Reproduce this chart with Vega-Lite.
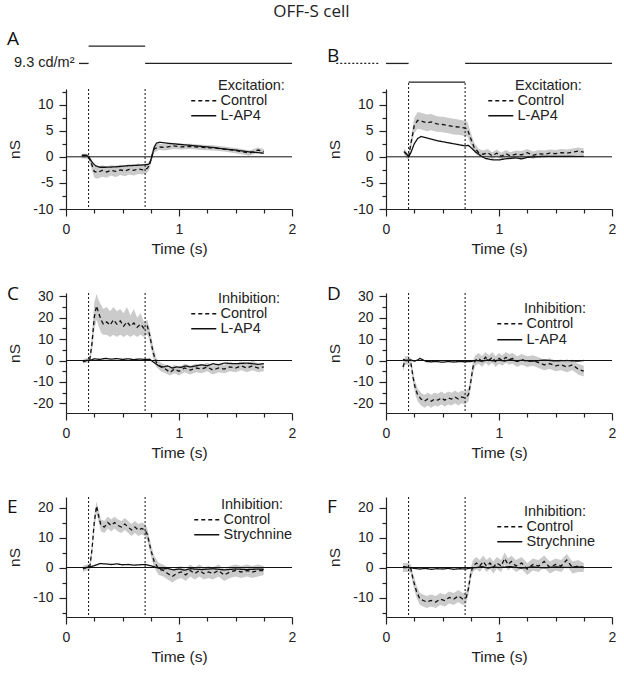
{
"$schema":"https://vega.github.io/schema/vega-lite/v6.json",
"padding":{"left":7,"top":3,"right":5,"bottom":5},
"title":{"text":"OFF-S cell","font":"Open Sans","fontSize":17,"fontWeight":"normal","color":"#222","anchor":"middle","frame":"bounds","dx":0,"dy":0,"offset":8.5},
"columns":2,
"spacing":{"row":84,"column":94},
"bounds":"flush",
"resolve":{"scale":{"x":"independent","y":"independent","strokeDash":"independent"},"legend":{"strokeDash":"independent"},"axis":{"x":"independent","y":"independent"}},
"datasets":{
"one":[{}],
"A":[
{"t":0.14,"s":"Control","v":0.2,"lo":-0.3,"hi":0.6},{"t":0.18,"s":"Control","v":0.2,"lo":-0.3,"hi":0.6},{"t":0.2,"s":"Control","v":0.0,"lo":-0.5,"hi":0.5},{"t":0.22,"s":"Control","v":-1.0,"lo":-1.8,"hi":-0.3},{"t":0.25,"s":"Control","v":-2.8,"lo":-4.0,"hi":-1.8},{"t":0.28,"s":"Control","v":-3.0,"lo":-4.2,"hi":-1.9},{"t":0.32,"s":"Control","v":-2.6,"lo":-3.8,"hi":-1.6},{"t":0.36,"s":"Control","v":-2.9,"lo":-4.0,"hi":-1.8},{"t":0.4,"s":"Control","v":-2.6,"lo":-3.6,"hi":-1.6},{"t":0.44,"s":"Control","v":-2.8,"lo":-3.9,"hi":-1.7},{"t":0.48,"s":"Control","v":-2.5,"lo":-3.5,"hi":-1.5},{"t":0.52,"s":"Control","v":-2.7,"lo":-3.7,"hi":-1.6},{"t":0.56,"s":"Control","v":-2.4,"lo":-3.4,"hi":-1.4},{"t":0.6,"s":"Control","v":-2.6,"lo":-3.6,"hi":-1.5},{"t":0.64,"s":"Control","v":-2.3,"lo":-3.3,"hi":-1.3},{"t":0.68,"s":"Control","v":-2.5,"lo":-3.4,"hi":-1.4},{"t":0.72,"s":"Control","v":-2.2,"lo":-3.0,"hi":-1.2},{"t":0.74,"s":"Control","v":-1.5,"lo":-2.4,"hi":-0.8},{"t":0.76,"s":"Control","v":0.2,"lo":-0.6,"hi":1.0},{"t":0.78,"s":"Control","v":1.5,"lo":0.8,"hi":2.2},{"t":0.82,"s":"Control","v":1.9,"lo":1.3,"hi":2.5},{"t":0.88,"s":"Control","v":1.8,"lo":1.2,"hi":2.4},{"t":0.95,"s":"Control","v":2.1,"lo":1.5,"hi":2.7},{"t":1.02,"s":"Control","v":1.9,"lo":1.4,"hi":2.5},{"t":1.1,"s":"Control","v":2.0,"lo":1.5,"hi":2.5},{"t":1.2,"s":"Control","v":1.8,"lo":1.3,"hi":2.3},{"t":1.3,"s":"Control","v":1.7,"lo":1.2,"hi":2.2},{"t":1.4,"s":"Control","v":1.5,"lo":1.0,"hi":2.0},{"t":1.5,"s":"Control","v":1.2,"lo":0.7,"hi":1.7},{"t":1.58,"s":"Control","v":0.9,"lo":0.4,"hi":1.4},{"t":1.62,"s":"Control","v":0.7,"lo":0.2,"hi":1.2},{"t":1.66,"s":"Control","v":1.0,"lo":0.5,"hi":1.5},{"t":1.7,"s":"Control","v":1.3,"lo":0.8,"hi":1.8},{"t":1.75,"s":"Control","v":1.0,"lo":0.5,"hi":1.5},
{"t":0.14,"s":"L-AP4","v":0.3},{"t":0.18,"s":"L-AP4","v":0.3},{"t":0.2,"s":"L-AP4","v":0.0},{"t":0.23,"s":"L-AP4","v":-1.0},{"t":0.26,"s":"L-AP4","v":-1.7},{"t":0.3,"s":"L-AP4","v":-2.0},{"t":0.35,"s":"L-AP4","v":-2.0},{"t":0.45,"s":"L-AP4","v":-1.9},{"t":0.55,"s":"L-AP4","v":-1.7},{"t":0.65,"s":"L-AP4","v":-1.6},{"t":0.72,"s":"L-AP4","v":-1.5},{"t":0.74,"s":"L-AP4","v":-1.3},{"t":0.76,"s":"L-AP4","v":0.0},{"t":0.78,"s":"L-AP4","v":1.8},{"t":0.8,"s":"L-AP4","v":2.6},{"t":0.83,"s":"L-AP4","v":2.8},{"t":0.9,"s":"L-AP4","v":2.6},{"t":1.0,"s":"L-AP4","v":2.4},{"t":1.1,"s":"L-AP4","v":2.2},{"t":1.2,"s":"L-AP4","v":2.0},{"t":1.3,"s":"L-AP4","v":1.8},{"t":1.4,"s":"L-AP4","v":1.5},{"t":1.5,"s":"L-AP4","v":1.3},{"t":1.6,"s":"L-AP4","v":1.0},{"t":1.7,"s":"L-AP4","v":0.8},{"t":1.75,"s":"L-AP4","v":0.7}
],
"B":[
{"t":0.16,"s":"Control","v":1.0,"lo":0.4,"hi":1.6},{"t":0.19,"s":"Control","v":0.2,"lo":-0.4,"hi":0.8},{"t":0.2,"s":"Control","v":0.0,"lo":-0.6,"hi":0.6},{"t":0.22,"s":"Control","v":2.5,"lo":1.5,"hi":3.5},{"t":0.25,"s":"Control","v":6.0,"lo":4.5,"hi":7.5},{"t":0.28,"s":"Control","v":7.0,"lo":5.4,"hi":8.6},{"t":0.32,"s":"Control","v":6.8,"lo":5.2,"hi":8.4},{"t":0.36,"s":"Control","v":6.5,"lo":4.9,"hi":8.1},{"t":0.4,"s":"Control","v":6.7,"lo":5.1,"hi":8.2},{"t":0.45,"s":"Control","v":6.3,"lo":4.8,"hi":7.8},{"t":0.5,"s":"Control","v":6.2,"lo":4.7,"hi":7.7},{"t":0.55,"s":"Control","v":6.0,"lo":4.5,"hi":7.5},{"t":0.6,"s":"Control","v":5.8,"lo":4.3,"hi":7.3},{"t":0.65,"s":"Control","v":5.7,"lo":4.2,"hi":7.1},{"t":0.7,"s":"Control","v":5.5,"lo":4.0,"hi":6.9},{"t":0.72,"s":"Control","v":5.3,"lo":3.9,"hi":6.7},{"t":0.75,"s":"Control","v":3.5,"lo":2.3,"hi":4.7},{"t":0.78,"s":"Control","v":1.8,"lo":0.9,"hi":2.7},{"t":0.82,"s":"Control","v":0.8,"lo":0.1,"hi":1.5},{"t":0.86,"s":"Control","v":0.5,"lo":-0.2,"hi":1.2},{"t":0.9,"s":"Control","v":0.8,"lo":0.1,"hi":1.5},{"t":0.94,"s":"Control","v":0.2,"lo":-0.5,"hi":0.9},{"t":0.98,"s":"Control","v":0.7,"lo":0.0,"hi":1.4},{"t":1.02,"s":"Control","v":0.1,"lo":-0.6,"hi":0.8},{"t":1.06,"s":"Control","v":0.6,"lo":-0.1,"hi":1.3},{"t":1.1,"s":"Control","v":0.2,"lo":-0.5,"hi":0.9},{"t":1.15,"s":"Control","v":0.5,"lo":-0.2,"hi":1.2},{"t":1.2,"s":"Control","v":0.4,"lo":-0.3,"hi":1.1},{"t":1.25,"s":"Control","v":0.8,"lo":0.1,"hi":1.5},{"t":1.3,"s":"Control","v":0.3,"lo":-0.4,"hi":1.0},{"t":1.35,"s":"Control","v":0.6,"lo":-0.1,"hi":1.3},{"t":1.4,"s":"Control","v":0.5,"lo":-0.2,"hi":1.2},{"t":1.45,"s":"Control","v":0.7,"lo":0.0,"hi":1.4},{"t":1.5,"s":"Control","v":0.6,"lo":-0.1,"hi":1.3},{"t":1.55,"s":"Control","v":0.8,"lo":0.1,"hi":1.5},{"t":1.6,"s":"Control","v":0.7,"lo":0.0,"hi":1.4},{"t":1.65,"s":"Control","v":0.9,"lo":0.2,"hi":1.6},{"t":1.7,"s":"Control","v":1.1,"lo":0.4,"hi":1.8},{"t":1.75,"s":"Control","v":0.9,"lo":0.2,"hi":1.6},
{"t":0.16,"s":"L-AP4","v":1.0},{"t":0.18,"s":"L-AP4","v":0.6},{"t":0.2,"s":"L-AP4","v":0.0},{"t":0.22,"s":"L-AP4","v":0.8},{"t":0.25,"s":"L-AP4","v":2.5},{"t":0.28,"s":"L-AP4","v":3.5},{"t":0.31,"s":"L-AP4","v":3.9},{"t":0.35,"s":"L-AP4","v":3.7},{"t":0.4,"s":"L-AP4","v":3.4},{"t":0.45,"s":"L-AP4","v":3.1},{"t":0.5,"s":"L-AP4","v":2.9},{"t":0.55,"s":"L-AP4","v":2.7},{"t":0.6,"s":"L-AP4","v":2.5},{"t":0.65,"s":"L-AP4","v":2.3},{"t":0.7,"s":"L-AP4","v":2.1},{"t":0.73,"s":"L-AP4","v":2.2},{"t":0.76,"s":"L-AP4","v":1.6},{"t":0.8,"s":"L-AP4","v":0.8},{"t":0.84,"s":"L-AP4","v":0.2},{"t":0.88,"s":"L-AP4","v":-0.3},{"t":0.92,"s":"L-AP4","v":-0.5},{"t":0.96,"s":"L-AP4","v":-0.6},{"t":1.0,"s":"L-AP4","v":-0.6},{"t":1.05,"s":"L-AP4","v":-0.4},{"t":1.1,"s":"L-AP4","v":-0.3},{"t":1.15,"s":"L-AP4","v":-0.2},{"t":1.2,"s":"L-AP4","v":-0.4},{"t":1.25,"s":"L-AP4","v":-0.1},{"t":1.3,"s":"L-AP4","v":0.0},{"t":1.4,"s":"L-AP4","v":0.1},{"t":1.5,"s":"L-AP4","v":0.1},{"t":1.6,"s":"L-AP4","v":0.1},{"t":1.7,"s":"L-AP4","v":0.1},{"t":1.75,"s":"L-AP4","v":0.1}
],
"C":[
{"t":0.15,"s":"Control","v":-0.5,"lo":-1.5,"hi":0.5},{"t":0.18,"s":"Control","v":0.0,"lo":-1,"hi":1},{"t":0.21,"s":"Control","v":0.3,"lo":-1,"hi":1.5},{"t":0.23,"s":"Control","v":8,"lo":4,"hi":12},{"t":0.25,"s":"Control","v":20,"lo":14,"hi":27},{"t":0.27,"s":"Control","v":25.5,"lo":19,"hi":31},{"t":0.29,"s":"Control","v":22,"lo":16,"hi":28},{"t":0.31,"s":"Control","v":19,"lo":13,"hi":26},{"t":0.33,"s":"Control","v":17,"lo":12,"hi":24},{"t":0.36,"s":"Control","v":18,"lo":12,"hi":25},{"t":0.39,"s":"Control","v":16.5,"lo":11,"hi":23},{"t":0.42,"s":"Control","v":19,"lo":12,"hi":25},{"t":0.45,"s":"Control","v":17,"lo":11,"hi":23},{"t":0.48,"s":"Control","v":18.5,"lo":12,"hi":24},{"t":0.51,"s":"Control","v":16,"lo":11,"hi":22},{"t":0.54,"s":"Control","v":18,"lo":12,"hi":25},{"t":0.57,"s":"Control","v":16,"lo":11,"hi":21},{"t":0.6,"s":"Control","v":17.5,"lo":12,"hi":24},{"t":0.63,"s":"Control","v":15.5,"lo":11,"hi":20},{"t":0.66,"s":"Control","v":17,"lo":12,"hi":22},{"t":0.69,"s":"Control","v":15,"lo":11,"hi":18},{"t":0.72,"s":"Control","v":16,"lo":12,"hi":19},{"t":0.74,"s":"Control","v":12,"lo":9,"hi":15},{"t":0.77,"s":"Control","v":4,"lo":1,"hi":7},{"t":0.8,"s":"Control","v":-1,"lo":-3,"hi":1},{"t":0.84,"s":"Control","v":-3,"lo":-5,"hi":-1},{"t":0.88,"s":"Control","v":-4,"lo":-6,"hi":-2},{"t":0.92,"s":"Control","v":-5.5,"lo":-7,"hi":-3.5},{"t":0.96,"s":"Control","v":-4,"lo":-6,"hi":-2},{"t":1.0,"s":"Control","v":-5,"lo":-7,"hi":-3},{"t":1.05,"s":"Control","v":-3.5,"lo":-5.5,"hi":-1.5},{"t":1.1,"s":"Control","v":-4.5,"lo":-6.5,"hi":-2.5},{"t":1.15,"s":"Control","v":-3.5,"lo":-5.5,"hi":-1.5},{"t":1.2,"s":"Control","v":-4,"lo":-6,"hi":-2},{"t":1.25,"s":"Control","v":-3,"lo":-5,"hi":-1},{"t":1.3,"s":"Control","v":-4.5,"lo":-6.5,"hi":-2.5},{"t":1.35,"s":"Control","v":-3.5,"lo":-5.5,"hi":-1.5},{"t":1.4,"s":"Control","v":-4,"lo":-6,"hi":-2},{"t":1.45,"s":"Control","v":-3,"lo":-5,"hi":-1},{"t":1.5,"s":"Control","v":-3.5,"lo":-5.5,"hi":-1.5},{"t":1.55,"s":"Control","v":-2.5,"lo":-4.5,"hi":-0.5},{"t":1.6,"s":"Control","v":-3.5,"lo":-5.5,"hi":-1.5},{"t":1.65,"s":"Control","v":-2.5,"lo":-4.5,"hi":0},{"t":1.7,"s":"Control","v":-3.5,"lo":-5.5,"hi":-1.5},{"t":1.75,"s":"Control","v":-3,"lo":-5,"hi":-1},
{"t":0.15,"s":"L-AP4","v":-0.5},{"t":0.18,"s":"L-AP4","v":0.0},{"t":0.22,"s":"L-AP4","v":0.2},{"t":0.25,"s":"L-AP4","v":0.8},{"t":0.3,"s":"L-AP4","v":0.5},{"t":0.35,"s":"L-AP4","v":1.0},{"t":0.4,"s":"L-AP4","v":0.6},{"t":0.45,"s":"L-AP4","v":0.9},{"t":0.5,"s":"L-AP4","v":0.5},{"t":0.55,"s":"L-AP4","v":0.8},{"t":0.6,"s":"L-AP4","v":0.4},{"t":0.65,"s":"L-AP4","v":0.7},{"t":0.7,"s":"L-AP4","v":0.5},{"t":0.74,"s":"L-AP4","v":0.6},{"t":0.78,"s":"L-AP4","v":-1.0},{"t":0.82,"s":"L-AP4","v":-2.5},{"t":0.86,"s":"L-AP4","v":-3.0},{"t":0.9,"s":"L-AP4","v":-2.5},{"t":0.94,"s":"L-AP4","v":-3.5},{"t":0.98,"s":"L-AP4","v":-3.0},{"t":1.02,"s":"L-AP4","v":-3.2},{"t":1.06,"s":"L-AP4","v":-2.5},{"t":1.1,"s":"L-AP4","v":-3.0},{"t":1.15,"s":"L-AP4","v":-2.5},{"t":1.2,"s":"L-AP4","v":-2.0},{"t":1.25,"s":"L-AP4","v":-2.5},{"t":1.3,"s":"L-AP4","v":-1.5},{"t":1.35,"s":"L-AP4","v":-2.0},{"t":1.4,"s":"L-AP4","v":-1.2},{"t":1.5,"s":"L-AP4","v":-1.5},{"t":1.6,"s":"L-AP4","v":-1.2},{"t":1.7,"s":"L-AP4","v":-1.8},{"t":1.75,"s":"L-AP4","v":-1.5}
],
"D":[
{"t":0.15,"s":"Control","v":-3,"lo":-5,"hi":-1},{"t":0.17,"s":"Control","v":0,"lo":-2,"hi":2},{"t":0.2,"s":"Control","v":0,"lo":-2,"hi":2},{"t":0.22,"s":"Control","v":-1,"lo":-3,"hi":1},{"t":0.24,"s":"Control","v":-8,"lo":-11,"hi":-5},{"t":0.26,"s":"Control","v":-13,"lo":-16,"hi":-10},{"t":0.28,"s":"Control","v":-16,"lo":-19,"hi":-13},{"t":0.31,"s":"Control","v":-18,"lo":-21,"hi":-15},{"t":0.34,"s":"Control","v":-19,"lo":-22,"hi":-16},{"t":0.37,"s":"Control","v":-18,"lo":-21,"hi":-15},{"t":0.4,"s":"Control","v":-19,"lo":-22,"hi":-16},{"t":0.43,"s":"Control","v":-18,"lo":-21,"hi":-15},{"t":0.46,"s":"Control","v":-18.5,"lo":-21.5,"hi":-15.5},{"t":0.49,"s":"Control","v":-17.5,"lo":-20.5,"hi":-14.5},{"t":0.52,"s":"Control","v":-18.5,"lo":-21.5,"hi":-15.5},{"t":0.55,"s":"Control","v":-17.5,"lo":-20.5,"hi":-14.5},{"t":0.58,"s":"Control","v":-18,"lo":-21,"hi":-15},{"t":0.61,"s":"Control","v":-17,"lo":-20,"hi":-14},{"t":0.64,"s":"Control","v":-18,"lo":-21,"hi":-15},{"t":0.67,"s":"Control","v":-17,"lo":-20,"hi":-14},{"t":0.7,"s":"Control","v":-17.5,"lo":-20.5,"hi":-14.5},{"t":0.73,"s":"Control","v":-16,"lo":-19,"hi":-13},{"t":0.75,"s":"Control","v":-10,"lo":-13,"hi":-7},{"t":0.77,"s":"Control","v":-3,"lo":-6,"hi":0},{"t":0.79,"s":"Control","v":0,"lo":-2.5,"hi":2.5},{"t":0.82,"s":"Control","v":1,"lo":-1.5,"hi":3.5},{"t":0.85,"s":"Control","v":-0.5,"lo":-3,"hi":2},{"t":0.88,"s":"Control","v":1.5,"lo":-1,"hi":4},{"t":0.91,"s":"Control","v":0,"lo":-2.5,"hi":2.5},{"t":0.94,"s":"Control","v":1.5,"lo":-1,"hi":4},{"t":0.97,"s":"Control","v":-0.5,"lo":-3,"hi":2},{"t":1.0,"s":"Control","v":1,"lo":-1.5,"hi":3.5},{"t":1.03,"s":"Control","v":0,"lo":-2.5,"hi":2.5},{"t":1.06,"s":"Control","v":1.5,"lo":-1,"hi":4},{"t":1.09,"s":"Control","v":0.5,"lo":-2,"hi":3},{"t":1.12,"s":"Control","v":1,"lo":-1.5,"hi":3.5},{"t":1.16,"s":"Control","v":-0.5,"lo":-3,"hi":2},{"t":1.2,"s":"Control","v":0.5,"lo":-2,"hi":3},{"t":1.25,"s":"Control","v":-0.5,"lo":-3,"hi":2},{"t":1.3,"s":"Control","v":0,"lo":-2.5,"hi":2.5},{"t":1.35,"s":"Control","v":-1,"lo":-3.5,"hi":1.5},{"t":1.4,"s":"Control","v":-2,"lo":-4.5,"hi":0.5},{"t":1.45,"s":"Control","v":-1.5,"lo":-4,"hi":1},{"t":1.5,"s":"Control","v":-2.5,"lo":-5,"hi":0},{"t":1.55,"s":"Control","v":-2,"lo":-4.5,"hi":0.5},{"t":1.6,"s":"Control","v":-3,"lo":-5.5,"hi":-0.5},{"t":1.65,"s":"Control","v":-2,"lo":-4.5,"hi":0.5},{"t":1.7,"s":"Control","v":-4,"lo":-6.5,"hi":-1.5},{"t":1.75,"s":"Control","v":-5,"lo":-7.5,"hi":-2.5},
{"t":0.15,"s":"L-AP4","v":0.5},{"t":0.18,"s":"L-AP4","v":0.0},{"t":0.22,"s":"L-AP4","v":0.3},{"t":0.25,"s":"L-AP4","v":-0.3},{"t":0.28,"s":"L-AP4","v":0.2},{"t":0.3,"s":"L-AP4","v":1.0},{"t":0.33,"s":"L-AP4","v":0.2},{"t":0.36,"s":"L-AP4","v":-0.5},{"t":0.4,"s":"L-AP4","v":-0.6},{"t":0.45,"s":"L-AP4","v":-0.5},{"t":0.5,"s":"L-AP4","v":-0.8},{"t":0.55,"s":"L-AP4","v":-0.5},{"t":0.6,"s":"L-AP4","v":-0.7},{"t":0.65,"s":"L-AP4","v":-0.5},{"t":0.7,"s":"L-AP4","v":-0.6},{"t":0.75,"s":"L-AP4","v":-0.5},{"t":0.8,"s":"L-AP4","v":0.0},{"t":0.85,"s":"L-AP4","v":-0.3},{"t":0.9,"s":"L-AP4","v":0.3},{"t":0.95,"s":"L-AP4","v":-0.2},{"t":1.0,"s":"L-AP4","v":0.2},{"t":1.05,"s":"L-AP4","v":-0.3},{"t":1.1,"s":"L-AP4","v":0.4},{"t":1.15,"s":"L-AP4","v":-0.2},{"t":1.2,"s":"L-AP4","v":0.1},{"t":1.3,"s":"L-AP4","v":-0.3},{"t":1.4,"s":"L-AP4","v":0.2},{"t":1.5,"s":"L-AP4","v":-0.2},{"t":1.6,"s":"L-AP4","v":0.0},{"t":1.7,"s":"L-AP4","v":-0.3},{"t":1.75,"s":"L-AP4","v":0.0}
],
"E":[
{"t":0.15,"s":"Control","v":-0.5,"lo":-1.5,"hi":0.5},{"t":0.18,"s":"Control","v":0,"lo":-1,"hi":1},{"t":0.21,"s":"Control","v":0,"lo":-1,"hi":1},{"t":0.23,"s":"Control","v":6,"lo":4,"hi":8},{"t":0.25,"s":"Control","v":15,"lo":12.5,"hi":17.5},{"t":0.27,"s":"Control","v":20.5,"lo":18,"hi":22},{"t":0.29,"s":"Control","v":17,"lo":15,"hi":19},{"t":0.31,"s":"Control","v":14,"lo":12,"hi":16},{"t":0.34,"s":"Control","v":13.5,"lo":11.5,"hi":15.5},{"t":0.37,"s":"Control","v":15,"lo":13,"hi":17},{"t":0.4,"s":"Control","v":14,"lo":12,"hi":16},{"t":0.43,"s":"Control","v":15,"lo":13,"hi":17},{"t":0.46,"s":"Control","v":14,"lo":12,"hi":16},{"t":0.49,"s":"Control","v":13.5,"lo":11.5,"hi":15.5},{"t":0.52,"s":"Control","v":14.5,"lo":12.5,"hi":16.5},{"t":0.55,"s":"Control","v":13.5,"lo":11.5,"hi":15.5},{"t":0.58,"s":"Control","v":12.5,"lo":10.5,"hi":14.5},{"t":0.61,"s":"Control","v":13.5,"lo":11.5,"hi":15.5},{"t":0.64,"s":"Control","v":12.5,"lo":10.5,"hi":14.5},{"t":0.67,"s":"Control","v":13,"lo":11,"hi":15},{"t":0.7,"s":"Control","v":12.5,"lo":10.5,"hi":14.5},{"t":0.72,"s":"Control","v":11,"lo":9,"hi":13},{"t":0.75,"s":"Control","v":6,"lo":4,"hi":8},{"t":0.78,"s":"Control","v":2,"lo":0,"hi":4},{"t":0.82,"s":"Control","v":-0.5,"lo":-2.5,"hi":1.5},{"t":0.86,"s":"Control","v":-1,"lo":-3,"hi":1},{"t":0.9,"s":"Control","v":-2,"lo":-4,"hi":0},{"t":0.94,"s":"Control","v":-3,"lo":-5,"hi":-1},{"t":0.98,"s":"Control","v":-2,"lo":-4,"hi":0},{"t":1.02,"s":"Control","v":-1.5,"lo":-3.5,"hi":0.5},{"t":1.06,"s":"Control","v":-2.5,"lo":-4.5,"hi":-0.5},{"t":1.1,"s":"Control","v":-1,"lo":-3,"hi":1},{"t":1.14,"s":"Control","v":-2,"lo":-4,"hi":0},{"t":1.18,"s":"Control","v":-1,"lo":-3,"hi":1},{"t":1.22,"s":"Control","v":-2,"lo":-4,"hi":0},{"t":1.26,"s":"Control","v":-1.5,"lo":-3.5,"hi":0.5},{"t":1.3,"s":"Control","v":-2,"lo":-4,"hi":0},{"t":1.35,"s":"Control","v":-1,"lo":-3,"hi":1},{"t":1.4,"s":"Control","v":-2.5,"lo":-4.5,"hi":-0.5},{"t":1.45,"s":"Control","v":-1.5,"lo":-3.5,"hi":0.5},{"t":1.5,"s":"Control","v":-1,"lo":-3,"hi":1},{"t":1.55,"s":"Control","v":-1.5,"lo":-3.5,"hi":0.5},{"t":1.6,"s":"Control","v":-1,"lo":-3,"hi":1},{"t":1.65,"s":"Control","v":-1.5,"lo":-3.5,"hi":0.5},{"t":1.7,"s":"Control","v":-1,"lo":-3,"hi":1},{"t":1.75,"s":"Control","v":-1,"lo":-2.5,"hi":0.5},
{"t":0.15,"s":"Strychnine","v":-0.3},{"t":0.18,"s":"Strychnine","v":0.0},{"t":0.22,"s":"Strychnine","v":0.3},{"t":0.25,"s":"Strychnine","v":0.6},{"t":0.3,"s":"Strychnine","v":1.3},{"t":0.35,"s":"Strychnine","v":1.2},{"t":0.4,"s":"Strychnine","v":1.0},{"t":0.45,"s":"Strychnine","v":1.2},{"t":0.5,"s":"Strychnine","v":0.9},{"t":0.55,"s":"Strychnine","v":1.0},{"t":0.6,"s":"Strychnine","v":0.8},{"t":0.65,"s":"Strychnine","v":0.9},{"t":0.7,"s":"Strychnine","v":1.0},{"t":0.75,"s":"Strychnine","v":0.6},{"t":0.8,"s":"Strychnine","v":0.0},{"t":0.85,"s":"Strychnine","v":-0.5},{"t":0.9,"s":"Strychnine","v":-0.3},{"t":0.95,"s":"Strychnine","v":-0.8},{"t":1.0,"s":"Strychnine","v":-0.5},{"t":1.05,"s":"Strychnine","v":-0.9},{"t":1.1,"s":"Strychnine","v":-0.4},{"t":1.2,"s":"Strychnine","v":-0.7},{"t":1.3,"s":"Strychnine","v":-0.4},{"t":1.4,"s":"Strychnine","v":-0.8},{"t":1.5,"s":"Strychnine","v":-0.5},{"t":1.6,"s":"Strychnine","v":-0.7},{"t":1.7,"s":"Strychnine","v":-0.5},{"t":1.75,"s":"Strychnine","v":-0.6}
],
"F":[
{"t":0.15,"s":"Control","v":0,"lo":-1.5,"hi":1.5},{"t":0.2,"s":"Control","v":0,"lo":-1.5,"hi":1.5},{"t":0.22,"s":"Control","v":-0.5,"lo":-2,"hi":1},{"t":0.24,"s":"Control","v":-4,"lo":-6,"hi":-2},{"t":0.27,"s":"Control","v":-8,"lo":-10,"hi":-6},{"t":0.3,"s":"Control","v":-10.5,"lo":-12.5,"hi":-8.5},{"t":0.33,"s":"Control","v":-11,"lo":-13,"hi":-9},{"t":0.36,"s":"Control","v":-11.5,"lo":-13.5,"hi":-9.5},{"t":0.4,"s":"Control","v":-11,"lo":-13,"hi":-9},{"t":0.44,"s":"Control","v":-11.5,"lo":-13.5,"hi":-9.5},{"t":0.48,"s":"Control","v":-10.5,"lo":-12.5,"hi":-8.5},{"t":0.52,"s":"Control","v":-11,"lo":-13,"hi":-9},{"t":0.56,"s":"Control","v":-10,"lo":-12,"hi":-8},{"t":0.6,"s":"Control","v":-10.5,"lo":-12.5,"hi":-8.5},{"t":0.64,"s":"Control","v":-9.5,"lo":-11.5,"hi":-7.5},{"t":0.68,"s":"Control","v":-10.5,"lo":-12.5,"hi":-8.5},{"t":0.71,"s":"Control","v":-10,"lo":-12,"hi":-8},{"t":0.73,"s":"Control","v":-7,"lo":-9,"hi":-5},{"t":0.75,"s":"Control","v":-2,"lo":-4,"hi":0},{"t":0.77,"s":"Control","v":0.5,"lo":-1.5,"hi":2.5},{"t":0.8,"s":"Control","v":1.5,"lo":-0.5,"hi":3.5},{"t":0.83,"s":"Control","v":0.5,"lo":-1.5,"hi":2.5},{"t":0.86,"s":"Control","v":2,"lo":0,"hi":4},{"t":0.89,"s":"Control","v":0.5,"lo":-1.5,"hi":2.5},{"t":0.92,"s":"Control","v":1.5,"lo":-0.5,"hi":3.5},{"t":0.95,"s":"Control","v":0,"lo":-2,"hi":2},{"t":0.98,"s":"Control","v":1.5,"lo":-0.5,"hi":3.5},{"t":1.02,"s":"Control","v":0.5,"lo":-1.5,"hi":2.5},{"t":1.05,"s":"Control","v":3,"lo":1,"hi":5},{"t":1.08,"s":"Control","v":1,"lo":-1,"hi":3},{"t":1.11,"s":"Control","v":2,"lo":0,"hi":4},{"t":1.15,"s":"Control","v":0.5,"lo":-1.5,"hi":2.5},{"t":1.2,"s":"Control","v":1.5,"lo":-0.5,"hi":3.5},{"t":1.25,"s":"Control","v":-0.5,"lo":-2.5,"hi":1.5},{"t":1.3,"s":"Control","v":1,"lo":-1,"hi":3},{"t":1.35,"s":"Control","v":0.5,"lo":-1.5,"hi":2.5},{"t":1.4,"s":"Control","v":2,"lo":0,"hi":4},{"t":1.45,"s":"Control","v":0,"lo":-2,"hi":2},{"t":1.5,"s":"Control","v":1,"lo":-1,"hi":3},{"t":1.55,"s":"Control","v":0.5,"lo":-1.5,"hi":2.5},{"t":1.6,"s":"Control","v":2.5,"lo":0.5,"hi":4.5},{"t":1.65,"s":"Control","v":0,"lo":-2,"hi":2},{"t":1.7,"s":"Control","v":0.5,"lo":-1.5,"hi":2.5},{"t":1.75,"s":"Control","v":0,"lo":-1.5,"hi":1.5},
{"t":0.15,"s":"Strychnine","v":0.3},{"t":0.2,"s":"Strychnine","v":0.0},{"t":0.25,"s":"Strychnine","v":-0.3},{"t":0.3,"s":"Strychnine","v":-0.5},{"t":0.35,"s":"Strychnine","v":-0.3},{"t":0.4,"s":"Strychnine","v":-0.6},{"t":0.45,"s":"Strychnine","v":-0.4},{"t":0.5,"s":"Strychnine","v":-0.5},{"t":0.55,"s":"Strychnine","v":-0.3},{"t":0.6,"s":"Strychnine","v":-0.6},{"t":0.65,"s":"Strychnine","v":-0.4},{"t":0.7,"s":"Strychnine","v":-0.5},{"t":0.75,"s":"Strychnine","v":-0.2},{"t":0.8,"s":"Strychnine","v":0.0},{"t":0.85,"s":"Strychnine","v":0.3},{"t":0.9,"s":"Strychnine","v":-0.2},{"t":0.95,"s":"Strychnine","v":0.2},{"t":1.0,"s":"Strychnine","v":0.0},{"t":1.1,"s":"Strychnine","v":0.3},{"t":1.2,"s":"Strychnine","v":-0.2},{"t":1.3,"s":"Strychnine","v":0.2},{"t":1.4,"s":"Strychnine","v":-0.1},{"t":1.5,"s":"Strychnine","v":0.2},{"t":1.6,"s":"Strychnine","v":0.0},{"t":1.7,"s":"Strychnine","v":0.2},{"t":1.75,"s":"Strychnine","v":0.0}
],
"stimA":[{"t0":0.115,"t1":0.2,"lvl":17.9,"ph":"background"},{"t0":0.2,"t1":0.7,"lvl":21.2,"ph":"stimulus"},{"t0":0.7,"t1":2.0,"lvl":17.9,"ph":"background"}],
"stimB":[{"t0":-0.44,"t1":-0.06,"lvl":17.9,"ph":"pre"},{"t0":0.0,"t1":0.2,"lvl":17.9,"ph":"background"},{"t0":0.2,"t1":0.7,"lvl":14.3,"ph":"stimulus"},{"t0":0.7,"t1":2.0,"lvl":17.9,"ph":"background"}]
},
"concat":[
{"title":{"text":"A","dy":7},"width":226,"height":120,"data":{"name":"A"},
 "resolve":{"axis":{"x":"independent","y":"independent"}},
 "layer":[
  {"transform":[{"filter":"datum.s == 'Control'"}],"mark":{"type":"area","color":"#cbcbcb"},
   "encoding":{"x":{"field":"t","type":"quantitative","title":"Time (s)","scale":{"domain":[0,2],"nice":false,"zero":false},"axis":{"values":[0,1,2],"labelExpr":"'' + datum.value"}},
    "y":{"field":"lo","type":"quantitative","title":"nS","scale":{"domain":[-10,13],"nice":false,"zero":false},"axis":{"values":[-10,-5,0,5,10],"labelExpr":"'' + datum.value"}},
    "y2":{"field":"hi"}}},
  {"data":{"name":"one"},"mark":{"type":"rule","color":"#111","strokeWidth":1},"encoding":{"y":{"datum":0,"axis":{"orient":"left","values":[-7.5,-2.5,2.5,7.5,12.5],"labels":false,"domain":false,"tickSize":4,"title":null}}}},
  {"data":{"name":"one"},"mark":{"type":"rule","color":"#111","strokeWidth":1,"strokeDash":[2,2]},"encoding":{"x":{"datum":0.2,"axis":{"orient":"bottom","values":[0.25,0.5,0.75,1.25,1.5,1.75],"labels":false,"domain":false,"tickSize":4,"title":null}}}},
  {"data":{"name":"one"},"mark":{"type":"rule","color":"#111","strokeWidth":1,"strokeDash":[2,2]},"encoding":{"x":{"datum":0.7,"axis":null}}},
  {"mark":{"type":"line","color":"#111","strokeWidth":1.3},
   "encoding":{"x":{"field":"t","type":"quantitative","axis":null},"y":{"field":"v","type":"quantitative","axis":null},
    "strokeDash":{"field":"s","type":"nominal","scale":{"domain":["Control","L-AP4"],"range":[[4,3],[1,0]]},"legend":{"title":"Excitation:","legendX":140,"legendY":-10,"encode":{"title":{"update":{"dx":{"value":12}}}}}}}},
  {"data":{"name":"stimA"},"mark":{"type":"rule","color":"#222","strokeWidth":1.3},"encoding":{"x":{"field":"t0","type":"quantitative","axis":null},"x2":{"field":"t1"},"y":{"field":"lvl","type":"quantitative","axis":null}}},
  {"data":{"name":"one"},"mark":{"type":"text","align":"right","baseline":"middle","font":"Liberation Sans","fontSize":14.5,"color":"#222"},"encoding":{"x":{"datum":0.075,"axis":null},"y":{"datum":17.9,"axis":null},"text":{"value":"9.3 cd/m²"}}}
 ]},
{"title":{"text":"B","dy":7},"width":226,"height":120,"data":{"name":"B"},
 "resolve":{"axis":{"x":"independent","y":"independent"}},
 "layer":[
  {"transform":[{"filter":"datum.s == 'Control'"}],"mark":{"type":"area","color":"#cbcbcb"},
   "encoding":{"x":{"field":"t","type":"quantitative","title":"Time (s)","scale":{"domain":[0,2],"nice":false,"zero":false},"axis":{"values":[0,1,2],"labelExpr":"'' + datum.value"}},
    "y":{"field":"lo","type":"quantitative","title":"nS","scale":{"domain":[-10,13],"nice":false,"zero":false},"axis":{"values":[-10,-5,0,5,10],"labelExpr":"'' + datum.value"}},
    "y2":{"field":"hi"}}},
  {"data":{"name":"one"},"mark":{"type":"rule","color":"#111","strokeWidth":1},"encoding":{"y":{"datum":0,"axis":{"orient":"left","values":[-7.5,-2.5,2.5,7.5,12.5],"labels":false,"domain":false,"tickSize":4,"title":null}}}},
  {"data":{"name":"one"},"mark":{"type":"rule","color":"#111","strokeWidth":1,"strokeDash":[2,2]},"encoding":{"x":{"datum":0.2,"axis":{"orient":"bottom","values":[0.25,0.5,0.75,1.25,1.5,1.75],"labels":false,"domain":false,"tickSize":4,"title":null}},"y":{"datum":-10,"axis":null},"y2":{"datum":14.3}}},
  {"data":{"name":"one"},"mark":{"type":"rule","color":"#111","strokeWidth":1,"strokeDash":[2,2]},"encoding":{"x":{"datum":0.7,"axis":null},"y":{"datum":-10,"axis":null},"y2":{"datum":14.3}}},
  {"mark":{"type":"line","color":"#111","strokeWidth":1.3},
   "encoding":{"x":{"field":"t","type":"quantitative","axis":null},"y":{"field":"v","type":"quantitative","axis":null},
    "strokeDash":{"field":"s","type":"nominal","scale":{"domain":["Control","L-AP4"],"range":[[4,3],[1,0]]},"legend":{"title":"Excitation:","legendX":117,"legendY":-10,"encode":{"title":{"update":{"dx":{"value":12}}}}}}}},
  {"data":{"name":"stimB"},"transform":[{"filter":"datum.ph != 'pre'"}],"mark":{"type":"rule","color":"#222","strokeWidth":1.3},"encoding":{"x":{"field":"t0","type":"quantitative","axis":null},"x2":{"field":"t1"},"y":{"field":"lvl","type":"quantitative","axis":null}}},
  {"data":{"name":"stimB"},"transform":[{"filter":"datum.ph == 'pre'"}],"mark":{"type":"rule","color":"#222","strokeWidth":1.3,"strokeDash":[2,2]},"encoding":{"x":{"field":"t0","type":"quantitative","axis":null},"x2":{"field":"t1"},"y":{"field":"lvl","type":"quantitative","axis":null}}}
 ]},
{"title":{"text":"C","dy":19},"width":226,"height":120,"data":{"name":"C"},
 "resolve":{"axis":{"x":"independent","y":"independent"}},
 "layer":[
  {"transform":[{"filter":"datum.s == 'Control'"}],"mark":{"type":"area","color":"#cbcbcb"},
   "encoding":{"x":{"field":"t","type":"quantitative","title":"Time (s)","scale":{"domain":[0,2],"nice":false,"zero":false},"axis":{"values":[0,1,2],"labelExpr":"'' + datum.value"}},
    "y":{"field":"lo","type":"quantitative","title":"nS","scale":{"domain":[-24.5,31.5],"nice":false,"zero":false},"axis":{"values":[-20,-10,0,10,20,30],"labelExpr":"'' + datum.value"}},
    "y2":{"field":"hi"}}},
  {"data":{"name":"one"},"mark":{"type":"rule","color":"#111","strokeWidth":1},"encoding":{"y":{"datum":0,"axis":{"orient":"left","values":[-15,-5,5,15,25],"labels":false,"domain":false,"tickSize":4,"title":null}}}},
  {"data":{"name":"one"},"mark":{"type":"rule","color":"#111","strokeWidth":1,"strokeDash":[2,2]},"encoding":{"x":{"datum":0.2,"axis":{"orient":"bottom","values":[0.25,0.5,0.75,1.25,1.5,1.75],"labels":false,"domain":false,"tickSize":4,"title":null}}}},
  {"data":{"name":"one"},"mark":{"type":"rule","color":"#111","strokeWidth":1,"strokeDash":[2,2]},"encoding":{"x":{"datum":0.7,"axis":null}}},
  {"mark":{"type":"line","color":"#111","strokeWidth":1.3},
   "encoding":{"x":{"field":"t","type":"quantitative","axis":null},"y":{"field":"v","type":"quantitative","axis":null},
    "strokeDash":{"field":"s","type":"nominal","scale":{"domain":["Control","L-AP4"],"range":[[4,3],[1,0]]},"legend":{"title":"Inhibition:","legendX":140,"legendY":-1,"encode":{"title":{"update":{"dx":{"value":12}}}}}}}}
 ]},
{"title":{"text":"D","dy":19},"width":226,"height":120,"data":{"name":"D"},
 "resolve":{"axis":{"x":"independent","y":"independent"}},
 "layer":[
  {"transform":[{"filter":"datum.s == 'Control'"}],"mark":{"type":"area","color":"#cbcbcb"},
   "encoding":{"x":{"field":"t","type":"quantitative","title":"Time (s)","scale":{"domain":[0,2],"nice":false,"zero":false},"axis":{"values":[0,1,2],"labelExpr":"'' + datum.value"}},
    "y":{"field":"lo","type":"quantitative","title":"nS","scale":{"domain":[-24.5,31.5],"nice":false,"zero":false},"axis":{"values":[-20,-10,0,10,20,30],"labelExpr":"'' + datum.value"}},
    "y2":{"field":"hi"}}},
  {"data":{"name":"one"},"mark":{"type":"rule","color":"#111","strokeWidth":1},"encoding":{"y":{"datum":0,"axis":{"orient":"left","values":[-15,-5,5,15,25],"labels":false,"domain":false,"tickSize":4,"title":null}}}},
  {"data":{"name":"one"},"mark":{"type":"rule","color":"#111","strokeWidth":1,"strokeDash":[2,2]},"encoding":{"x":{"datum":0.2,"axis":{"orient":"bottom","values":[0.25,0.5,0.75,1.25,1.5,1.75],"labels":false,"domain":false,"tickSize":4,"title":null}}}},
  {"data":{"name":"one"},"mark":{"type":"rule","color":"#111","strokeWidth":1,"strokeDash":[2,2]},"encoding":{"x":{"datum":0.7,"axis":null}}},
  {"mark":{"type":"line","color":"#111","strokeWidth":1.3},
   "encoding":{"x":{"field":"t","type":"quantitative","axis":null},"y":{"field":"v","type":"quantitative","axis":null},
    "strokeDash":{"field":"s","type":"nominal","scale":{"domain":["Control","L-AP4"],"range":[[4,3],[1,0]]},"legend":{"title":"Inhibition:","legendX":126,"legendY":9,"rowPadding":1,"encode":{"title":{"update":{"dx":{"value":12}}}}}}}}
 ]},
{"title":{"text":"E","dy":24},"width":226,"height":120,"data":{"name":"E"},
 "resolve":{"axis":{"x":"independent","y":"independent"}},
 "layer":[
  {"transform":[{"filter":"datum.s == 'Control'"}],"mark":{"type":"area","color":"#cbcbcb"},
   "encoding":{"x":{"field":"t","type":"quantitative","title":"Time (s)","scale":{"domain":[0,2],"nice":false,"zero":false},"axis":{"values":[0,1,2],"labelExpr":"'' + datum.value"}},
    "y":{"field":"lo","type":"quantitative","title":"nS","scale":{"domain":[-16.5,23.5],"nice":false,"zero":false},"axis":{"values":[-10,0,10,20],"labelExpr":"'' + datum.value"}},
    "y2":{"field":"hi"}}},
  {"data":{"name":"one"},"mark":{"type":"rule","color":"#111","strokeWidth":1},"encoding":{"y":{"datum":0,"axis":{"orient":"left","values":[-15,-5,5,15],"labels":false,"domain":false,"tickSize":4,"title":null}}}},
  {"data":{"name":"one"},"mark":{"type":"rule","color":"#111","strokeWidth":1,"strokeDash":[2,2]},"encoding":{"x":{"datum":0.2,"axis":{"orient":"bottom","values":[0.25,0.5,0.75,1.25,1.5,1.75],"labels":false,"domain":false,"tickSize":4,"title":null}}}},
  {"data":{"name":"one"},"mark":{"type":"rule","color":"#111","strokeWidth":1,"strokeDash":[2,2]},"encoding":{"x":{"datum":0.7,"axis":null}}},
  {"mark":{"type":"line","color":"#111","strokeWidth":1.3},
   "encoding":{"x":{"field":"t","type":"quantitative","axis":null},"y":{"field":"v","type":"quantitative","axis":null},
    "strokeDash":{"field":"s","type":"nominal","scale":{"domain":["Control","Strychnine"],"range":[[4,3],[1,0]]},"legend":{"title":"Inhibition:","legendX":143,"legendY":1,"encode":{"title":{"update":{"dx":{"value":12}}}}}}}}
 ]},
{"title":{"text":"F","dy":24},"width":226,"height":120,"data":{"name":"F"},
 "resolve":{"axis":{"x":"independent","y":"independent"}},
 "layer":[
  {"transform":[{"filter":"datum.s == 'Control'"}],"mark":{"type":"area","color":"#cbcbcb"},
   "encoding":{"x":{"field":"t","type":"quantitative","title":"Time (s)","scale":{"domain":[0,2],"nice":false,"zero":false},"axis":{"values":[0,1,2],"labelExpr":"'' + datum.value"}},
    "y":{"field":"lo","type":"quantitative","title":"nS","scale":{"domain":[-16.5,23.5],"nice":false,"zero":false},"axis":{"values":[-10,0,10,20],"labelExpr":"'' + datum.value"}},
    "y2":{"field":"hi"}}},
  {"data":{"name":"one"},"mark":{"type":"rule","color":"#111","strokeWidth":1},"encoding":{"y":{"datum":0,"axis":{"orient":"left","values":[-15,-5,5,15],"labels":false,"domain":false,"tickSize":4,"title":null}}}},
  {"data":{"name":"one"},"mark":{"type":"rule","color":"#111","strokeWidth":1,"strokeDash":[2,2]},"encoding":{"x":{"datum":0.2,"axis":{"orient":"bottom","values":[0.25,0.5,0.75,1.25,1.5,1.75],"labels":false,"domain":false,"tickSize":4,"title":null}}}},
  {"data":{"name":"one"},"mark":{"type":"rule","color":"#111","strokeWidth":1,"strokeDash":[2,2]},"encoding":{"x":{"datum":0.7,"axis":null}}},
  {"mark":{"type":"line","color":"#111","strokeWidth":1.3},
   "encoding":{"x":{"field":"t","type":"quantitative","axis":null},"y":{"field":"v","type":"quantitative","axis":null},
    "strokeDash":{"field":"s","type":"nominal","scale":{"domain":["Control","Strychnine"],"range":[[4,3],[1,0]]},"legend":{"title":"Inhibition:","legendX":126,"legendY":8,"encode":{"title":{"update":{"dx":{"value":12}}}}}}}}
 ]}
],
"config":{
 "view":{"stroke":null},
 "font":"Liberation Sans",
 "axis":{"grid":false,"domainColor":"#222","domainWidth":1.2,"tickColor":"#222","tickWidth":1.2,"tickSize":7,"labelFont":"Liberation Sans","labelFontSize":14,"labelColor":"#222","labelPadding":6,"labelFlush":false,"labelOverlap":false,"titleFont":"Liberation Sans","titleFontSize":15.5,"titleFontWeight":"normal","titleColor":"#222"},
 "axisX":{"titlePadding":5},
 "axisY":{"titlePadding":10},
 "legend":{"orient":"none","titleFontWeight":"normal","titleFont":"Liberation Sans","labelFont":"Liberation Sans","titleFontSize":14.5,"labelFontSize":14.5,"titleColor":"#222","labelColor":"#222","symbolType":"M-11,0H1.5","symbolSize":16,"symbolStrokeColor":"#111","symbolStrokeWidth":1.3,"symbolFillColor":"transparent","labelOffset":0,"rowPadding":0,"titlePadding":0,"padding":0},
 "title":{"anchor":"start","frame":"group","dx":-59,"font":"Open Sans","fontSize":19,"fontWeight":"normal","color":"#111"}
}
}
